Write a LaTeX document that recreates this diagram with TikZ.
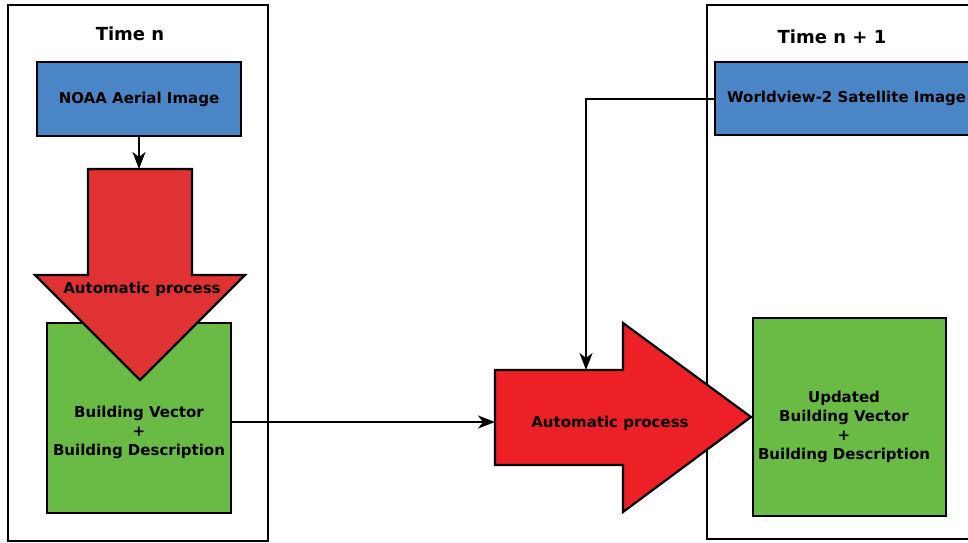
\documentclass[tikz,border=0pt]{standalone}
\usepackage{fontspec}
\setmainfont{DejaVu Sans}
\usetikzlibrary{arrows.meta}
\definecolor{boxblue}{RGB}{74,134,197}
\definecolor{arrred1}{RGB}{224,50,50}
\definecolor{arrred2}{RGB}{236,32,38}
\definecolor{boxgreen}{RGB}{106,187,69}
\tikzset{
  frame/.style={draw=black,line width=2.2pt,rectangle,inner sep=0pt},
  bluebox/.style={frame,fill=boxblue},
  greenbox/.style={frame,fill=boxgreen},
  redarrow/.style={draw=black,line width=2.2pt,line join=miter},
  lbl/.style={font=\fontsize{15}{19}\selectfont\bfseries,align=center,inner sep=0pt},
  ttl/.style={font=\fontsize{18}{22}\selectfont\bfseries,inner sep=0pt},
  conn/.style={draw=black,line width=2pt,-{Stealth[length=17pt,width=13pt,inset=5pt]}},
  plain/.style={draw=black,line width=2pt}
}
\begin{document}
\begin{tikzpicture}[x=1pt,y=-1pt]
\useasboundingbox (0,0) rectangle (968,542);
% panels
\node[frame,minimum width=260pt,minimum height=536pt] (p1) at (138,273) {};
\node[frame,minimum width=300pt,minimum height=534pt] (p2) at (857,272) {};
\node[ttl] (t1) at (130,34) {Time n};
\node[ttl] (t2) at (832,37) {Time n + 1};
% left panel
\node[bluebox,minimum width=204pt,minimum height=74pt] (b1) at (139,99) {};
\node[lbl] (b1t) at (139,99) {NOAA Aerial Image};
\node[greenbox,minimum width=184pt,minimum height=190pt] (g1) at (139,418) {};
\node[lbl] (g1t) at (139,432) {Building Vector\\+\\Building Description};
\draw[redarrow,fill=arrred1] (88,169) -- (192,169) -- (192,275) -- (245,275) -- (140,380) -- (35,275) -- (88,275) -- cycle;
\coordinate (a1top) at (139,169);
\node[lbl] (a1t) at (142,289) {Automatic process};
\draw[conn] (b1.south) -- (a1top);
% right side
\draw[redarrow,fill=arrred2] (495,370) -- (623,370) -- (623,323) -- (751,417) -- (623,512) -- (623,465) -- (495,465) -- cycle;
\coordinate (a2left) at (495,422);
\coordinate (a2top) at (586,370);
\node[lbl] (a2t) at (610,423) {Automatic process};
\node[bluebox,minimum width=263pt,minimum height=73pt] (b2) at (846.5,98.5) {};
\node[lbl,anchor=west] (b2t) at (727,98) {Worldview-2 Satellite Image};
\node[greenbox,minimum width=193pt,minimum height=198pt] (g2) at (849.5,417) {};
\node[lbl] (g2t) at (844,427) {Updated\\Building Vector\\+\\Building Description};
% connectors
\draw[conn] (g1.east |- a2left) -- (a2left);
\draw[conn] (b2.west) -| (a2top);
\end{tikzpicture}
\end{document}
